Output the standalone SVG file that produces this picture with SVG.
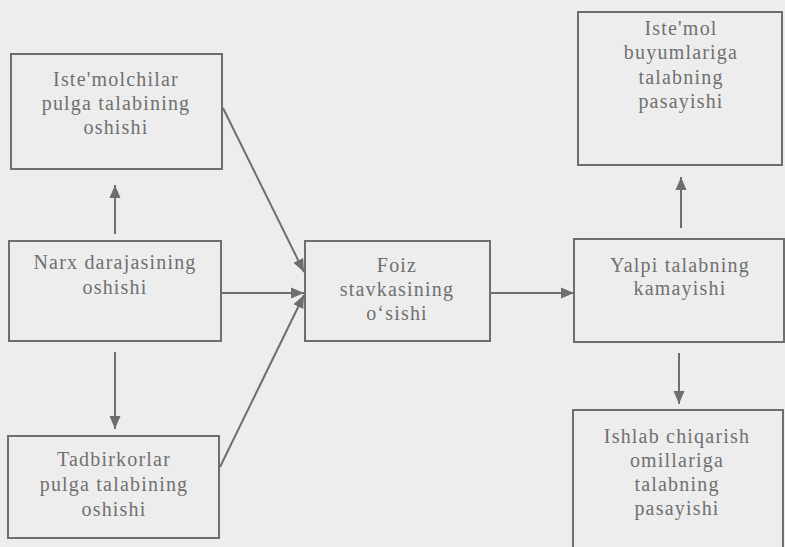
<svg xmlns="http://www.w3.org/2000/svg" width="785" height="547" viewBox="0 0 785 547">
<style>
.box{fill:none;stroke:#6e6e6e;stroke-width:2}
.t{font-family:"Liberation Serif","Times New Roman",serif;font-size:20px;letter-spacing:1.2px;fill:#707070;text-anchor:middle}
.c{stroke:#6e6e6e;stroke-width:2;fill:none;marker-end:url(#ah)}
</style>
<defs>
<marker id="ah" markerUnits="userSpaceOnUse" markerWidth="14" markerHeight="12" viewBox="0 0 14 12" refX="13" refY="6" orient="auto">
<path d="M0,0.5 L13,6 L0,11.5 Z" fill="#6e6e6e"/>
</marker>
</defs>
<rect width="785" height="547" fill="#ededed"/>
<g id="n1"><rect class="box" x="11" y="54" width="211" height="115"/>
<text class="t" x="116" y="86">Iste'molchilar</text><text class="t" x="116" y="110">pulga talabining</text><text class="t" x="116" y="134">oshishi</text></g>
<g id="n2"><rect class="box" x="9" y="241" width="212" height="100"/>
<text class="t" x="115" y="269">Narx darajasining</text><text class="t" x="115" y="294">oshishi</text></g>
<g id="n3"><rect class="box" x="8" y="436" width="211" height="102"/>
<text class="t" x="114" y="466">Tadbirkorlar</text><text class="t" x="114" y="491">pulga talabining</text><text class="t" x="114" y="516">oshishi</text></g>
<g id="n4"><rect class="box" x="305" y="241" width="185" height="100"/>
<text class="t" x="397" y="272">Foiz</text><text class="t" x="397" y="296">stavkasining</text><text class="t" x="397" y="320">o‘sishi</text></g>
<g id="n5"><rect class="box" x="574" y="239" width="210" height="103"/>
<text class="t" x="680" y="272">Yalpi talabning</text><text class="t" x="680" y="295">kamayishi</text></g>
<g id="n6"><rect class="box" x="578" y="12" width="204" height="153"/>
<text class="t" x="681" y="35">Iste'mol</text><text class="t" x="681" y="59">buyumlariga</text><text class="t" x="681" y="84">talabning</text><text class="t" x="681" y="108">pasayishi</text></g>
<g id="n7"><rect class="box" x="573" y="410" width="210" height="145"/>
<text class="t" x="677" y="443">Ishlab chiqarish</text><text class="t" x="677" y="467">omillariga</text><text class="t" x="677" y="491">talabning</text><text class="t" x="677" y="515">pasayishi</text></g>
<g id="connectors">
<line class="c" x1="223" y1="108" x2="304" y2="272"/>
<line class="c" x1="221" y1="293" x2="304" y2="293"/>
<line class="c" x1="220" y1="467" x2="304" y2="295"/>
<line class="c" x1="490" y1="293" x2="574" y2="293"/>
<line class="c" x1="115" y1="234" x2="115" y2="185"/>
<line class="c" x1="115" y1="352" x2="115" y2="429"/>
<line class="c" x1="681" y1="228" x2="681" y2="177"/>
<line class="c" x1="679" y1="353" x2="679" y2="404"/>
</g>
</svg>
